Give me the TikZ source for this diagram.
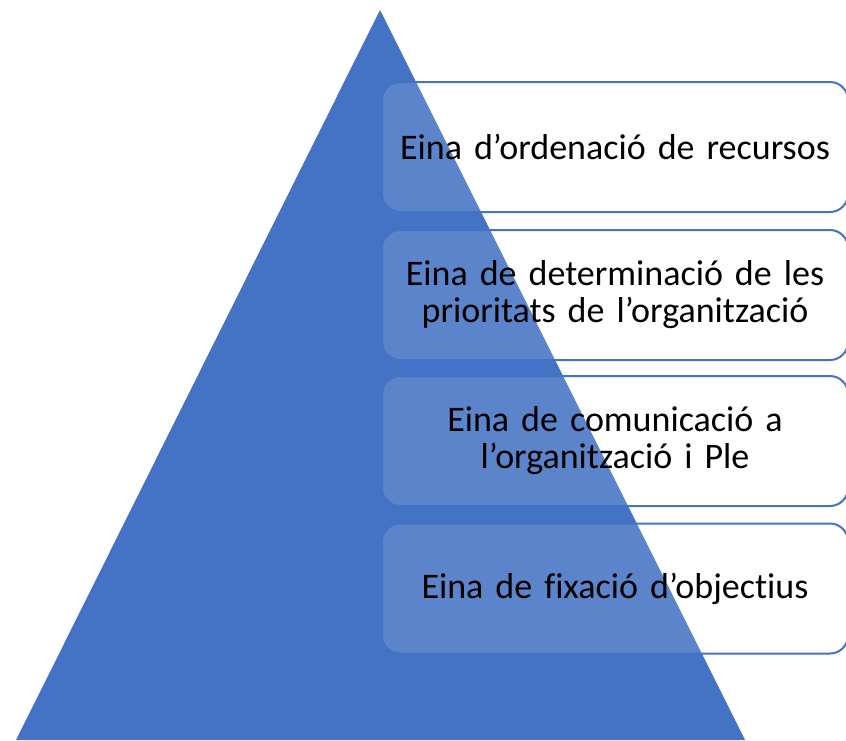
\documentclass[tikz,border=0pt]{standalone}
\usepackage{fontspec}
\setmainfont{Carlito}[Ligatures=NoCommon]
\definecolor{pyrblue}{HTML}{4472C4}
\begin{document}
\begin{tikzpicture}[x=1pt,y=-1pt,
    level/.style={draw=pyrblue,line width=2pt,fill=white,fill opacity=0.13,
        text opacity=1,rounded corners=18pt,minimum width=466pt,
        minimum height=130pt,text width=450pt,inner sep=0pt,align=center,
        font=\fontsize{36}{37}\selectfont}]
    \useasboundingbox (0,0) rectangle (846,740);
    \clip (0,0) rectangle (846,740);
    %draw pyramid
    \coordinate (top) at (380,10);
    \coordinate (baseleft) at (16,740);
    \coordinate (baseright) at (745,740);
    \fill [pyrblue] (top) -- (baseleft) -- (baseright) -- cycle;
    %draw levels
    \node [level] (ordenacio) at (615,147) {Eina d’ordenació de recursos};
    \node [level] (prioritats) at (615,295) {Eina de determinació de les\\prioritats de l’organització};
    \node [level] (comunicacio) at (615,441) {Eina de comunicació a\\l’organització i Ple};
    \node [level] (objectius) at (615,588.5) {Eina de fixació d’objectius};
\end{tikzpicture}
\end{document}
